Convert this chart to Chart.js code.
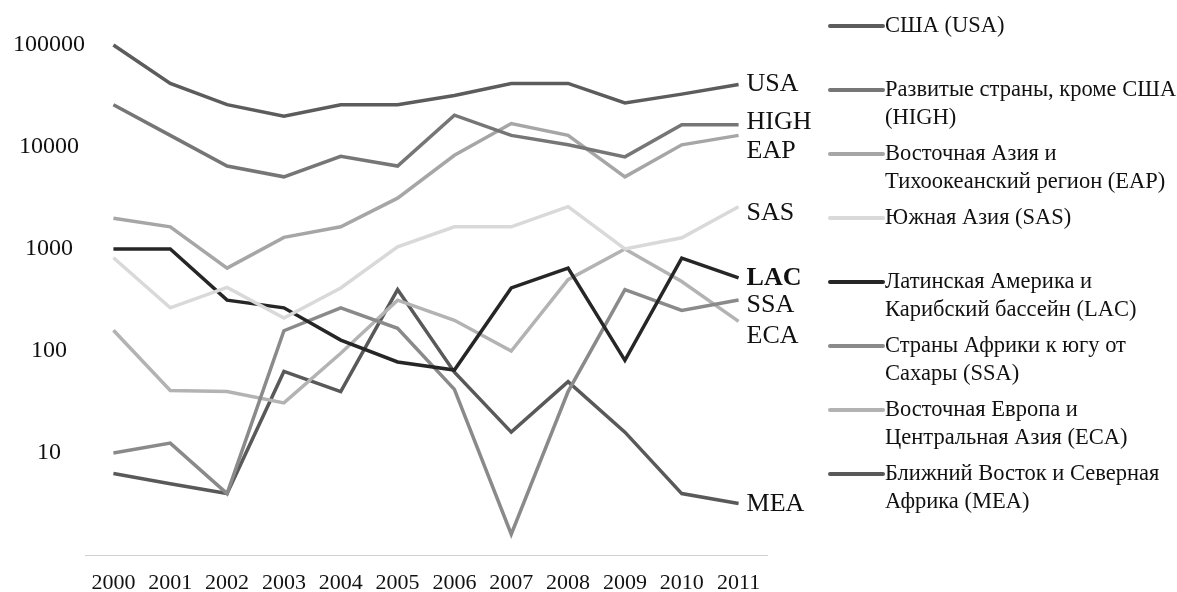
<!DOCTYPE html>
<html>
<head>
<meta charset="utf-8">
<script src="https://cdn.jsdelivr.net/npm/chart.js@4"></script>
<style>
  html, body { margin: 0; padding: 0; background: #fff; }
  #wrap { width: 1177px; height: 592px; position: relative; }
</style>
</head>
<body>
<div id="wrap"><canvas id="chart" width="1177" height="592"></canvas></div>
<script>
const years = ['2000', '2001', '2002', '2003', '2004', '2005', '2006', '2007', '2008', '2009', '2010', '2011'];
const yTicks = [10, 100, 1000, 10000, 100000];

const usa  = [100000, 42000, 26000, 20000, 26000, 26000, 32000, 42000, 42000, 27000, 33000, 41000];
const high = [26000, 13000, 6500, 5100, 8100, 6500, 20500, 13000, 10500, 8000, 16500, 16500];
const eap  = [2000, 1650, 650, 1300, 1650, 3150, 8300, 17000, 13000, 5100, 10500, 13000];
const sas  = [820, 265, 420, 210, 415, 1050, 1650, 1650, 2600, 1000, 1290, 2600];
const lac  = [1000, 1000, 315, 265, 128, 78, 65, 415, 650, 81, 815, 520];
const ssa  = [10, 12.5, 4, 158, 265, 167, 42, 1.6, 40, 400, 250, 316];
const eca  = [160, 41, 40, 31, 95, 315, 200, 100, 500, 1000, 480, 195];
const mea  = [6.3, 5, 4, 63, 40, 400, 62, 16, 50, 16, 4, 3.2];

const codes = ['USA', 'HIGH', 'EAP', 'SAS', 'LAC', 'SSA', 'ECA', 'MEA'];
const legendNames = [
  ['США (USA)'],
  ['Развитые страны, кроме США', '(HIGH)'],
  ['Восточная Азия и', 'Тихоокеанский регион (EAP)'],
  ['Южная Азия (SAS)'],
  ['Латинская Америка и', 'Карибский бассейн (LAC)'],
  ['Страны Африки к югу от', 'Сахары (SSA)'],
  ['Восточная Европа и', 'Центральная Азия (ECA)'],
  ['Ближний Восток и Северная', 'Африка (MEA)']
];
const colors = ['#5c5c5c', '#767676', '#a6a6a6', '#d9d9d9', '#262626', '#8a8a8a', '#b3b3b3', '#595959'];
const series = [usa, high, eap, sas, lac, ssa, eca, mea];

// small vertical nudges for end labels so they don't collide
const labelNudge = [0, -3, 16, 6, 0, 5, 15, 1];

const SERIF = '"Liberation Serif", "DejaVu Serif", serif';

const endLabels = {
  id: 'endLabels',
  afterDatasetsDraw(chart) {
    const ctx = chart.ctx;
    ctx.save();
    ctx.textBaseline = 'middle';
    ctx.textAlign = 'left';
    ctx.fillStyle = '#111';
    chart.data.datasets.forEach((ds, i) => {
      const meta = chart.getDatasetMeta(i);
      const pt = meta.data[meta.data.length - 1];
      ctx.font = (codes[i] === 'LAC' ? 'bold ' : '') + '26px ' + SERIF;
      ctx.fillText(codes[i], pt.x + 8, pt.y + labelNudge[i]);
    });
    ctx.restore();
  }
};

const sideLegend = {
  id: 'sideLegend',
  afterDraw(chart) {
    const ctx = chart.ctx;
    const x0 = 830, x1 = 883, tx = 885;
    const top = 26, step = 64, lineH = 28;
    ctx.save();
    ctx.font = '22.5px ' + SERIF;
    ctx.textBaseline = 'middle';
    ctx.textAlign = 'left';
    chart.data.datasets.forEach((ds, i) => {
      const y = top + i * step;
      ctx.strokeStyle = ds.borderColor;
      ctx.lineWidth = 4;
      ctx.lineCap = 'round';
      ctx.beginPath();
      ctx.moveTo(x0, y);
      ctx.lineTo(x1, y);
      ctx.stroke();
      ctx.fillStyle = '#111';
      legendNames[i].forEach((t, k) => ctx.fillText(t, tx, y + k * lineH));
    });
    ctx.restore();
  }
};

new Chart(document.getElementById('chart'), {
  type: 'line',
  data: {
    labels: years,
    datasets: series.map((d, i) => ({
      label: codes[i],
      data: d,
      borderColor: colors[i],
      backgroundColor: colors[i],
      borderWidth: 3.5,
      pointRadius: 0,
      tension: 0,
      clip: false
    }))
  },
  options: {
    responsive: false,
    animation: false,
    layout: { padding: { left: 0, right: 410, top: 45, bottom: 0 } },
    plugins: {
      legend: { display: false },
      tooltip: { enabled: false }
    },
    scales: {
      x: {
        offset: true,
        grid: { display: false, drawTicks: false },
        border: { display: true, color: '#d0d0d0', width: 1 },
        afterFit(scale) {
          scale.height = 37;
        },
        ticks: {
          color: '#111',
          font: { family: SERIF, size: 22 },
          padding: 15,
          maxRotation: 0,
          autoSkip: false
        }
      },
      y: {
        type: 'logarithmic',
        min: 1,
        max: 100000,
        grid: { display: false, drawTicks: false },
        border: { display: false },
        afterBuildTicks(scale) {
          scale.ticks = yTicks.map(v => ({ value: v }));
        },
        afterFit(scale) {
          scale.width = 85;
        },
        ticks: {
          color: '#111',
          crossAlign: 'center',
          padding: 0,
          font: { family: SERIF, size: 24 },
          callback: v => String(v)
        }
      }
    }
  },
  plugins: [endLabels, sideLegend]
});
</script>
</body>
</html>
